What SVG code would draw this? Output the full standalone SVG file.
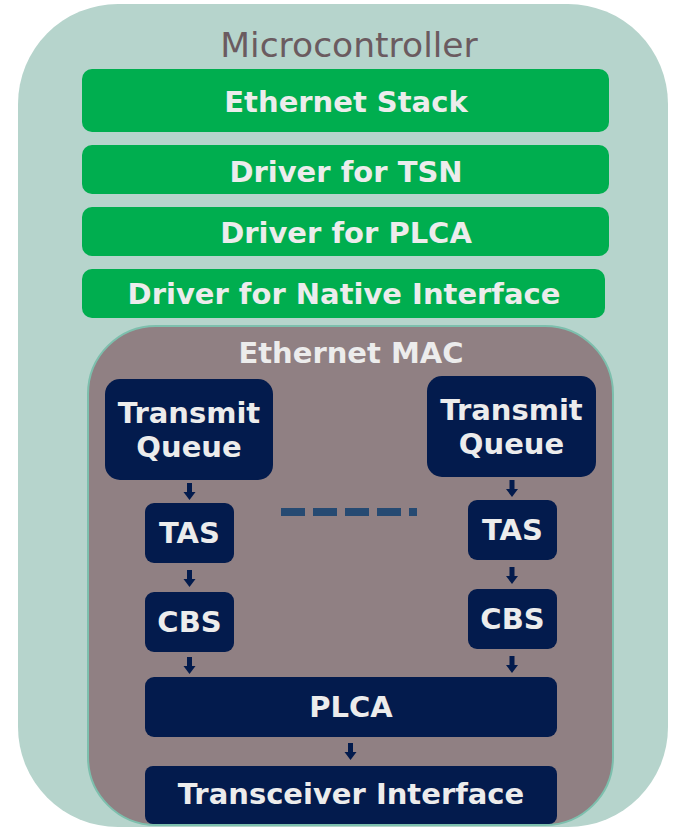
<svg xmlns="http://www.w3.org/2000/svg" xmlns:xlink="http://www.w3.org/1999/xlink" width="673" height="828" viewBox="0 0 673 828">
  <style>
    .mcu { fill: #b6d4cc; }
    .title { font-family: "DejaVu Sans", Verdana, sans-serif; font-size: 34.5px; fill: #6b5b60; text-anchor: middle; }
    .layer { fill: #00ae4f; }
    .mac { fill: #908083; stroke: #7dbfad; stroke-width: 2; }
    .blk { fill: #031b4d; }
    .lbl { font-family: "DejaVu Sans", Verdana, sans-serif; font-weight: bold; font-size: 29px; fill: #ececec; text-anchor: middle; }
    .arrow { fill: #031b4d; }
    .dots { stroke: #264a72; stroke-width: 8; stroke-dasharray: 24 8; fill: none; }
  </style>
  <defs>
    <!-- small block arrow pointing down, origin at top centre of the shaft -->
    <path id="down" d="M -2.5 0 H 2.5 V 9 H 6 L 0 17 L -6 9 H -2.5 Z"/>
  </defs>

  <!-- microcontroller body -->
  <g id="microcontroller">
    <rect class="mcu" x="18" y="4" width="650" height="823" rx="100" ry="100"/>
    <text class="title" x="349" y="57">Microcontroller</text>
  </g>

  <!-- software layers -->
  <g id="ethernet-stack">
    <rect class="layer" x="82" y="69" width="527" height="63" rx="10"/>
    <text class="lbl" x="346" y="112">Ethernet Stack</text>
  </g>
  <g id="driver-tsn">
    <rect class="layer" x="82" y="145" width="527" height="49" rx="10"/>
    <text class="lbl" x="346" y="182">Driver for TSN</text>
  </g>
  <g id="driver-plca">
    <rect class="layer" x="82" y="207" width="527" height="49" rx="10"/>
    <text class="lbl" x="346" y="243">Driver for PLCA</text>
  </g>
  <g id="driver-native">
    <rect class="layer" x="82" y="269" width="523" height="49" rx="10"/>
    <text class="lbl" x="344" y="304">Driver for Native Interface</text>
  </g>

  <!-- MAC container -->
  <g id="ethernet-mac">
    <rect class="mac" x="88" y="326" width="525" height="499" rx="68" ry="68"/>
    <text class="lbl" x="351" y="363">Ethernet MAC</text>
  </g>

  <!-- left queue path -->
  <g id="tq-left">
    <rect class="blk" x="105" y="379" width="168" height="101" rx="15"/>
    <text class="lbl" x="189" y="423">Transmit</text>
    <text class="lbl" x="189" y="457">Queue</text>
  </g>
  <g id="tas-left">
    <rect class="blk" x="145" y="503" width="89" height="60" rx="9"/>
    <text class="lbl" x="189.5" y="543">TAS</text>
  </g>
  <g id="cbs-left">
    <rect class="blk" x="145" y="592" width="89" height="60" rx="9"/>
    <text class="lbl" x="189.5" y="632">CBS</text>
  </g>

  <!-- right queue path -->
  <g id="tq-right">
    <rect class="blk" x="427" y="376" width="169" height="101" rx="15"/>
    <text class="lbl" x="511.5" y="420">Transmit</text>
    <text class="lbl" x="511.5" y="454">Queue</text>
  </g>
  <g id="tas-right">
    <rect class="blk" x="468" y="500" width="89" height="60" rx="9"/>
    <text class="lbl" x="512.5" y="540">TAS</text>
  </g>
  <g id="cbs-right">
    <rect class="blk" x="468" y="589" width="89" height="60" rx="9"/>
    <text class="lbl" x="512.5" y="629">CBS</text>
  </g>

  <!-- shared blocks -->
  <g id="plca">
    <rect class="blk" x="145" y="677" width="412" height="60" rx="9"/>
    <text class="lbl" x="351" y="717">PLCA</text>
  </g>
  <g id="transceiver-interface">
    <rect class="blk" x="145" y="766" width="412" height="58" rx="8"/>
    <text class="lbl" x="351" y="804">Transceiver Interface</text>
  </g>

  <!-- connectors -->
  <g id="connectors">
    <use xlink:href="#down" class="arrow" x="189.5" y="483"/>
    <use xlink:href="#down" class="arrow" x="189.5" y="570"/>
    <use xlink:href="#down" class="arrow" x="189.5" y="657"/>
    <use xlink:href="#down" class="arrow" x="512" y="480"/>
    <use xlink:href="#down" class="arrow" x="512" y="567"/>
    <use xlink:href="#down" class="arrow" x="512" y="656"/>
    <use xlink:href="#down" class="arrow" x="350.5" y="743"/>
    <line class="dots" x1="281" y1="512" x2="417" y2="512"/>
  </g>
</svg>
